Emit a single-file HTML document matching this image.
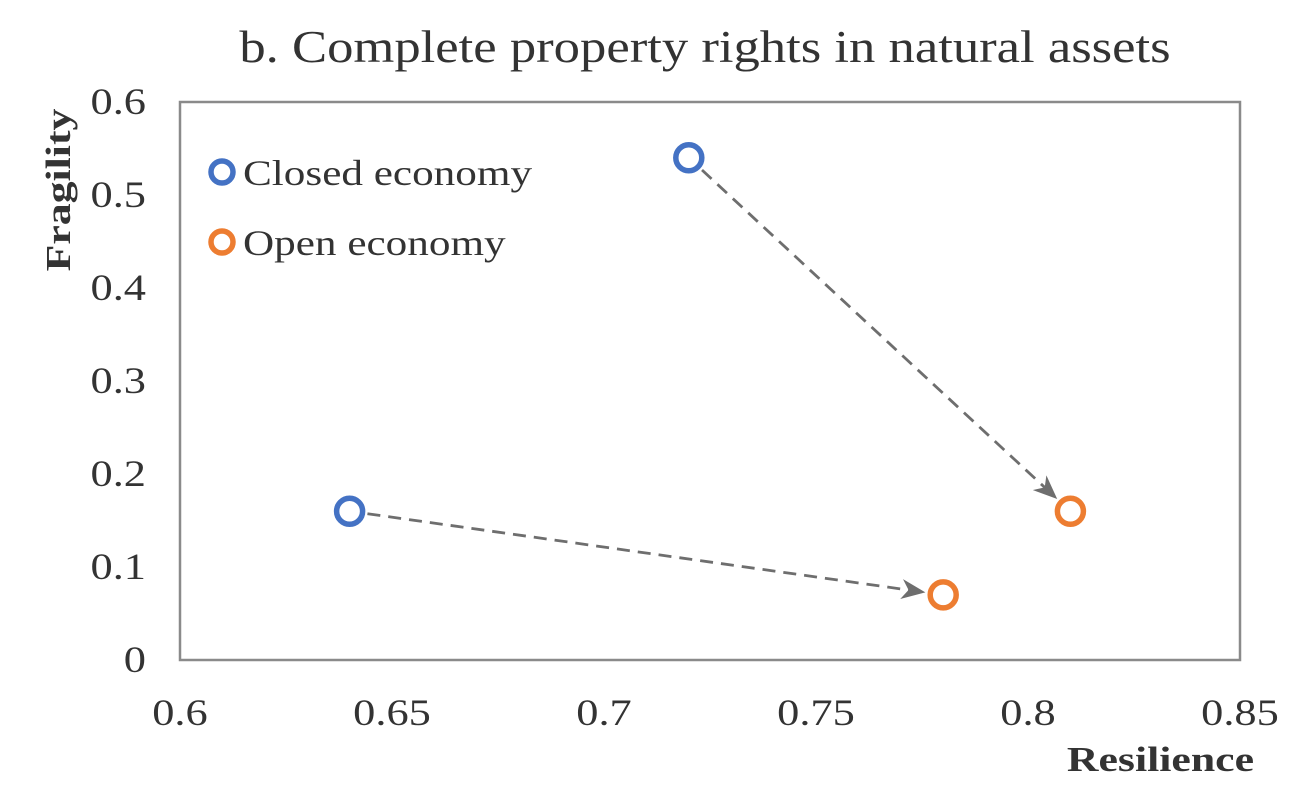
<!DOCTYPE html>
<html><head><meta charset="utf-8"><style>
html,body{margin:0;padding:0;background:#fff;}
svg{display:block;font-family:"Liberation Serif",serif;}
</style></head><body>
<svg id="chart" width="1296" height="800" viewBox="0 0 1296 800">
<defs><marker id="ah" viewBox="0 0 24 20" refX="22" refY="10" markerWidth="24" markerHeight="20" orient="auto" markerUnits="userSpaceOnUse"><path d="M0,0 L24,10 L0,20 L7,10 Z" fill="#6e6e6e"/></marker></defs>
<text x="705" y="62" text-anchor="middle" font-size="45" fill="#333" transform="translate(705,0) scale(1.17,1) translate(-705,0)">b. Complete property rights in natural assets</text>
<rect x="180" y="102" width="1060" height="558" fill="none" stroke="#8a8a8a" stroke-width="2.5"/>
<g id="yt"></g><g id="xt"></g><g id="arrows"></g><g id="pts"></g>
<text transform="translate(70,190) rotate(-90) scale(1.25,1)" text-anchor="middle" font-size="35" font-weight="bold" fill="#333">Fragility</text>
<text x="1254" y="771" text-anchor="end" font-size="35" font-weight="bold" fill="#333" transform="translate(1254,0) scale(1.25,1) translate(-1254,0)">Resilience</text>
<g>
<circle cx="222" cy="172" r="11" fill="none" stroke="#4472c4" stroke-width="5.5"/>
<text x="243" y="185" font-size="36" fill="#333" transform="translate(243,0) scale(1.2,1) translate(-243,0)">Closed economy</text>
<circle cx="222" cy="242" r="11" fill="none" stroke="#ed7d31" stroke-width="5.5"/>
<text x="243" y="255" font-size="36" fill="#333" transform="translate(243,0) scale(1.2,1) translate(-243,0)">Open economy</text>
</g>
</svg>
<script>
const xTicks=[0.6,0.65,0.7,0.75,0.8,0.85];
const yTicks=[0,0.1,0.2,0.3,0.4,0.5,0.6];
const xTickLabels=["0.6","0.65","0.7","0.75","0.8","0.85"];
const yTickLabels=["0","0.1","0.2","0.3","0.4","0.5","0.6"];
const closedX=[0.72,0.64];
const closedY=[0.54,0.16];
const openX=[0.81,0.78];
const openY=[0.16,0.07];
const NS="http://www.w3.org/2000/svg";
const X=v=>180+(v-0.6)/0.25*1060;
const Y=v=>660-v/0.6*558;
function mk(t,a,p){const e=document.createElementNS(NS,t);for(const k in a)e.setAttribute(k,a[k]);p.appendChild(e);return e;}
const yt=document.getElementById('yt'),xt=document.getElementById('xt');
yTicks.forEach((v,i)=>{const e=mk('text',{x:146,y:Y(v)+12,'text-anchor':'end','font-size':37,fill:'#333',transform:'translate(146,0) scale(1.2,1) translate(-146,0)'},yt);e.textContent=yTickLabels[i];

});
xTicks.forEach((v,i)=>{const x=X(v);const e=mk('text',{x:x,y:725,'text-anchor':'middle','font-size':37,fill:'#333',transform:'translate('+x+',0) scale(1.2,1) translate('+(-x)+',0)'},xt);e.textContent=xTickLabels[i];

});
const ar=document.getElementById('arrows'),pts=document.getElementById('pts');
closedX.forEach((cx,i)=>{
 const x1=X(cx),y1=Y(closedY[i]),x2=X(openX[i]),y2=Y(openY[i]);
 const dx=x2-x1,dy=y2-y1,L=Math.hypot(dx,dy),s=18,e0=20;
 const l=mk('line',{x1:x1+dx/L*s,y1:y1+dy/L*s,x2:x2-dx/L*e0,y2:y2-dy/L*e0,stroke:'#6e6e6e','stroke-width':2.8,'stroke-dasharray':'13,8','marker-end':'url(#ah)'},ar);
 
 
});
closedX.forEach((v,i)=>{const c=mk('circle',{cx:X(v),cy:Y(closedY[i]),r:13,fill:'#fff',stroke:'#4472c4','stroke-width':5.5},pts);

});
openX.forEach((v,i)=>{const c=mk('circle',{cx:X(v),cy:Y(openY[i]),r:13,fill:'#fff',stroke:'#ed7d31','stroke-width':5.5},pts);

});
</script>
</body></html>
